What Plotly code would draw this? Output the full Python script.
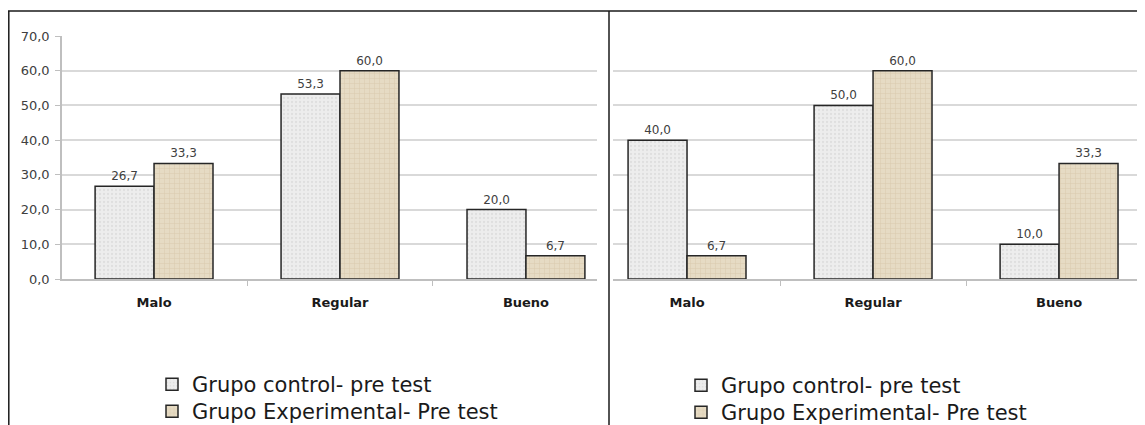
import plotly.graph_objects as go

categories = ["Malo", "Regular", "Bueno"]
series_names = ["Grupo control- pre test", "Grupo Experimental- Pre test"]
left_control = [26.7, 53.3, 20.0]
left_experimental = [33.3, 60.0, 6.7]
right_control = [40.0, 50.0, 10.0]
right_experimental = [6.7, 60.0, 33.3]
y_ticks = [0, 10, 20, 30, 40, 50, 60, 70]

W, H = 1145, 425
OFF = 8  # page body margin compensation

def px(x):
    return (x - OFF) / W

def py(y):
    return (H - (y - OFF)) / H

ctrl_style = dict(color="#eeeeee", line=dict(color="#262626", width=1.5),
                  pattern=dict(shape=".", fgcolor="#cfcfcf", bgcolor="#ededed", size=4, solidity=0.25))
exp_style = dict(color="#e4d8c0", line=dict(color="#262626", width=1.5),
                 pattern=dict(shape="+", fgcolor="#cbbb98", bgcolor="#e6dbc4", size=5, solidity=0.2))
lbl_font = dict(family="DejaVu Sans", size=12, color="#404040")

fig = go.Figure()

def add_pair(ctrl, exp, xa, ya, leg_a, leg_b):
    fig.add_trace(go.Bar(x=categories, y=ctrl, name=series_names[0], marker=ctrl_style,
                         xaxis=xa, yaxis=ya, legend=leg_a,
                         texttemplate="%{y:.1f}", textposition="outside",
                         textfont=lbl_font, cliponaxis=False))
    fig.add_trace(go.Bar(x=categories, y=exp, name=series_names[1], marker=exp_style,
                         xaxis=xa, yaxis=ya, legend=leg_b,
                         texttemplate="%{y:.1f}", textposition="outside",
                         textfont=lbl_font, cliponaxis=False))

add_pair(left_control, left_experimental, "x", "y", "legend", "legend2")
add_pair(right_control, right_experimental, "x2", "y2", "legend3", "legend4")

ydom = [py(279), py(36)]
xcommon = dict(type="category", showgrid=False, showline=True, linecolor="#bfbfbf", linewidth=1.5,
               ticks="outside", tickson="boundaries", ticklen=5, tickcolor="#bfbfbf",
               tickfont=dict(family="DejaVu Sans", size=13, color="#1a1a1a", weight="bold"),
               ticklabelstandoff=11, automargin=False)
ycommon = dict(range=[0, 70], tickvals=y_ticks, tickformat=".1f", showgrid=True, gridcolor="#d9d9d9",
               gridwidth=1.5, zeroline=False, domain=ydom, automargin=False)
leg_font = dict(family="DejaVu Sans", size=21, color="#1a1a1a")

def leg(xr, ytop):
    return dict(xref="container", yref="container", x=px(xr), y=py(ytop),
                xanchor="left", yanchor="top", font=leg_font,
                bgcolor="rgba(0,0,0,0)", itemwidth=30)

fig.update_layout(
    width=W, height=H, margin=dict(l=0, r=0, t=0, b=0, autoexpand=False),
    paper_bgcolor="white", plot_bgcolor="white",
    separators=",.",
    barmode="group", bargap=0.366, bargroupgap=0,
    xaxis=dict(domain=[px(62), px(597)], range=[-0.495, 2.382], anchor="y", **xcommon),
    yaxis=dict(anchor="x", showline=True, linecolor="#bfbfbf", linewidth=1.5,
               ticks="outside", ticklen=5, tickcolor="#bfbfbf", ticklabelstandoff=3,
               tickfont=dict(family="DejaVu Sans", size=13, color="#404040"),
               **ycommon),
    xaxis2=dict(domain=[px(613), 1.0], range=[-0.398, 2.505], anchor="y2", **xcommon),
    yaxis2=dict(anchor="x2", showline=False, showticklabels=False, ticks="", **ycommon),
    legend=leg(152, 364),
    legend2=leg(152, 391),
    legend3=leg(681, 365),
    legend4=leg(681, 392),
    showlegend=True,
    shapes=[
        dict(type="line", xref="paper", yref="paper", x0=px(8), x1=1, y0=py(11), y1=py(11),
             line=dict(color="#1a1a1a", width=1.5)),
        dict(type="line", xref="paper", yref="paper", x0=px(8.8), x1=px(8.8), y0=0, y1=py(11),
             line=dict(color="#1a1a1a", width=1.5)),
        dict(type="line", xref="paper", yref="paper", x0=px(609), x1=px(609), y0=0, y1=py(11),
             line=dict(color="#1a1a1a", width=1.5)),
    ],
)

fig.write_html("out.html")
